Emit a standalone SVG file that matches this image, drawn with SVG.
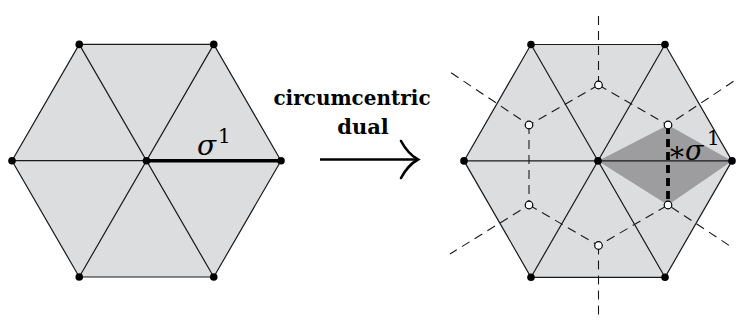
<svg xmlns="http://www.w3.org/2000/svg" width="737" height="320" viewBox="0 0 737 320">
<style>
.hex{fill:#dcdddf;stroke:none}
.edge{stroke:#1a1a1a;stroke-width:1.2;fill:none}
.dash{stroke:#1a1a1a;stroke-width:1.1;fill:none;stroke-dasharray:9 6}
.thick{stroke:#000;stroke-width:3.6;fill:none}
.v{fill:#000}
.ov{fill:#fff;stroke:#000;stroke-width:1.2}
.math{font-family:"DejaVu Serif","Liberation Serif",serif;font-style:italic;fill:#000}
.num{font-family:"DejaVu Serif","Liberation Serif",serif;fill:#000}
.lbl{font-family:"DejaVu Serif","Liberation Serif",serif;font-weight:bold;fill:#000}
</style>
<rect width="737" height="320" fill="#fff"/>
<g id="left-complex">
<polygon class="hex" points="281,160.7 213.75,44.4 79.25,44.4 12,160.7 79.25,277 213.75,277"/>
<polygon class="edge" points="281,160.7 213.75,44.4 79.25,44.4 12,160.7 79.25,277 213.75,277"/>
<path class="edge" d="M12,160.7 H146.5 M79.25,44.4 L213.75,277 M213.75,44.4 L79.25,277"/>
<line class="thick" x1="146.5" y1="160.7" x2="281" y2="160.7" stroke-width="3.8"/>
<g>
<circle class="v" cx="281" cy="160.7" r="3.8"/><circle class="v" cx="213.75" cy="44.4" r="3.8"/>
<circle class="v" cx="79.25" cy="44.4" r="3.8"/><circle class="v" cx="12" cy="160.7" r="3.8"/>
<circle class="v" cx="79.25" cy="277" r="3.8"/><circle class="v" cx="213.75" cy="277" r="3.8"/>
<circle class="v" cx="146.5" cy="160.7" r="3.8"/>
</g>
<text class="math" x="197" y="154.5" font-size="28">σ</text>
<text class="num" x="218" y="143" font-size="20">1</text>
</g>
<g id="arrow-label">
<text class="lbl" x="352" y="105" font-size="20" text-anchor="middle">circumcentric</text>
<text class="lbl" x="363" y="134" font-size="21" text-anchor="middle">dual</text>
</g>
<g id="connectors">
<line x1="320" y1="159.5" x2="416" y2="159.5" stroke="#000" stroke-width="2.6"/>
<path d="M401,141 Q408,154 418,159.5 Q408,165 401,178" fill="none" stroke="#000" stroke-width="2.6" stroke-linecap="round"/>
</g>
<g id="right-complex">
<polygon class="hex" points="732,160.9 665,44.5 531,44.5 464,160.9 531,277.3 665,277.3"/>
<polygon points="598,160.9 668,125 732,160.9 668,205" fill="#9d9da0"/>
<polygon class="edge" points="732,160.9 665,44.5 531,44.5 464,160.9 531,277.3 665,277.3"/>
<path class="edge" d="M464,160.9 H732 M531,44.5 L665,277.3 M665,44.5 L531,277.3"/>
<g id="dual-edges">
<path class="dash" d="M598.5,85 V11 M598.5,245.5 V320"/>
<path class="dash" d="M598.5,85 L529,125 L447,70 M598.5,85 L668,125 L737,79"/>
<path class="dash" d="M529,125 V205 L450,254 M529,205 L598.5,245.5 L668,205 L733,248"/>
<line x1="668" y1="126" x2="668" y2="204" stroke="#000" stroke-width="3.8" stroke-dasharray="8 5"/>
</g>
<g>
<circle class="v" cx="732" cy="160.9" r="3.8"/><circle class="v" cx="665" cy="44.5" r="3.8"/>
<circle class="v" cx="531" cy="44.5" r="3.8"/><circle class="v" cx="464" cy="160.9" r="3.8"/>
<circle class="v" cx="531" cy="277.3" r="3.8"/><circle class="v" cx="665" cy="277.3" r="3.8"/>
<circle class="v" cx="598" cy="160.9" r="3.8"/>
</g>
<g>
<circle class="ov" cx="598.5" cy="85" r="3.8"/><circle class="ov" cx="529" cy="125" r="3.8"/>
<circle class="ov" cx="668" cy="125" r="3.8"/><circle class="ov" cx="529" cy="205" r="3.8"/>
<circle class="ov" cx="668" cy="205" r="3.8"/><circle class="ov" cx="598.5" cy="245.5" r="3.8"/>
</g>
<text class="num" x="670" y="167" font-size="28">*</text>
<text class="math" x="685" y="160" font-size="27">σ</text>
<text class="num" x="707" y="145" font-size="20">1</text>
</g>
</svg>
